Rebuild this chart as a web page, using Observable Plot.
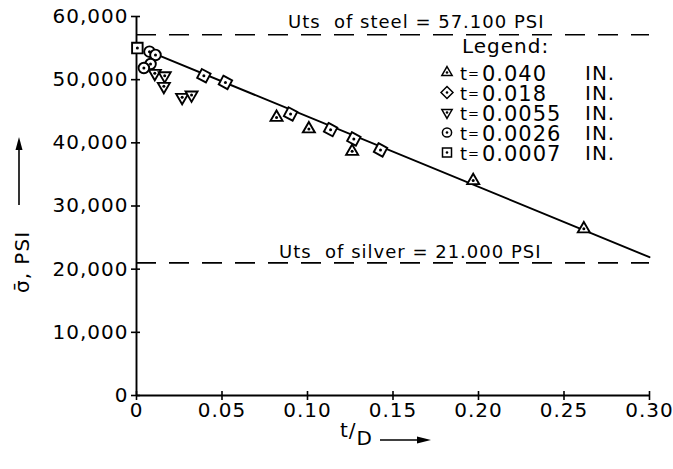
<!DOCTYPE html>
<html><head><meta charset="utf-8">
<script src="https://cdn.jsdelivr.net/npm/d3@7"></script>
<script src="https://cdn.jsdelivr.net/npm/@observablehq/plot@0.6"></script>
<style>
body{margin:0;background:#fff;}
#chart svg text{letter-spacing:1px;}
</style></head><body><div id="chart"></div>
<script>
// ---- tick values & labels ----
const xTicks = [0, 0.05, 0.10, 0.15, 0.20, 0.25, 0.30];
const xTickLabels = ["0", "0.05", "0.10", "0.15", "0.20", "0.25", "0.30"];
const yTicks = [0, 10000, 20000, 30000, 40000, 50000, 60000];
const yTickLabels = ["0", "10,000", "20,000", "30,000", "40,000", "50,000", "60,000"];

// ---- series (t/D, mean stress psi) ----
const t0040_tD = [0.0819, 0.1008, 0.1261, 0.1969, 0.2616];
const t0040_stress = [44030, 42200, 38650, 34020, 26380];
const t0018_tD = [0.0394, 0.0520, 0.0901, 0.1135, 0.1271, 0.1427];
const t0018_stress = [50630, 49570, 44570, 42090, 40620, 38880];
const t00055_tD = [0.0107, 0.0165, 0.0160, 0.0267, 0.0322];
const t00055_stress = [51000, 50630, 48940, 47200, 47580];
const t00026_tD = [0.0076, 0.0111, 0.0082, 0.0043];
const t00026_stress = [54430, 53910, 52480, 51850];
const t00007_tD = [0.0005];
const t00007_stress = [55000];

// fitted straight line
const fitTD = [0.008, 0.30];
const fitStress = [54400, 21900];

// reference UTS levels
const refNames = ["steel", "silver"];
const refStress = [57100, 21000];
const refLabels = ["Uts  of steel = 57.100 PSI", "Uts  of silver = 21.000 PSI"];

// legend
const legendLabels = ["0.040", "0.018", "0.0055", "0.0026", "0.0007"];
const legendUnit = "IN.";
const legendTitle = "Legend:";

// ---- symbols ----
function poly(pts) {
  return {draw(ctx, size) {
    const r = Math.sqrt(size / Math.PI);
    pts.forEach(([a, b], i) => i ? ctx.lineTo(a * r, b * r) : ctx.moveTo(a * r, b * r));
    ctx.closePath();
  }};
}
function rotSquare(h, deg) {
  const t = deg * Math.PI / 180, c = Math.cos(t), s = Math.sin(t);
  return poly([[-h,-h],[h,-h],[h,h],[-h,h]].map(([a,b]) => [a*c - b*s, a*s + b*c]));
}
const symUp = poly([[0, -1.12], [0.97, 0.56], [-0.97, 0.56]]);
const symDown = poly([[0, 1.12], [0.97, -0.56], [-0.97, -0.56]]);
const symSquare = rotSquare(0.85, 0);
const symTilt = rotSquare(0.8, 28);
const symDiamond = rotSquare(0.8, 45);

const series = [
  {tD: t0040_tD, s: t0040_stress, sym: symUp, leg: symUp},
  {tD: t0018_tD, s: t0018_stress, sym: symTilt, leg: symDiamond},
  {tD: t00055_tD, s: t00055_stress, sym: symDown, leg: symDown},
  {tD: t00026_tD, s: t00026_stress, sym: "circle", leg: "circle"},
  {tD: t00007_tD, s: t00007_stress, sym: symSquare, leg: symSquare}
];

const fit = fitTD.map((x, i) => ({x, y: fitStress[i]}));
const refs = refStress.map((y, i) => ({y, label: refLabels[i], name: refNames[i]}));
const fmtX = d => xTickLabels[xTicks.findIndex(v => Math.abs(v - d) < 1e-9)];
const fmtY = d => yTickLabels[yTicks.indexOf(d)];

const marks = [
  Plot.ruleY(refs, {y: "y", stroke: "black", strokeWidth: 1.6, strokeDasharray: "20,13"}),
  Plot.text(refs.filter(d => d.name === "steel"), {x: () => 0.30, y: "y", text: "label", textAnchor: "end", dx: -105, dy: -13, fontSize: 18}),
  Plot.text(refs.filter(d => d.name === "silver"), {x: () => 0.30, y: "y", text: "label", textAnchor: "end", dx: -108, dy: -11, fontSize: 18}),
  Plot.line(fit, {x: "x", y: "y", stroke: "black", strokeWidth: 1.9}),
  Plot.ruleX([0], {stroke: "black", strokeWidth: 1.9}),
  Plot.ruleY([0], {stroke: "black", strokeWidth: 1.9}),
  Plot.axisX({ticks: xTicks, tickSize: 9, dy: -4, tickFormat: () => "", strokeWidth: 1.6, label: null}),
  Plot.axisX({ticks: xTicks, tickSize: 0, tickPadding: 7, tickFormat: fmtX, fontSize: 20, label: null}),
  Plot.axisY({ticks: yTicks, tickSize: 9, dx: 4, tickFormat: () => "", strokeWidth: 1.6, label: null}),
  Plot.axisY({ticks: yTicks, tickSize: 0, tickPadding: 8, tickFormat: fmtY, fontSize: 20, label: null})
];
for (const s of series) {
  const data = s.tD.map((x, i) => ({x, y: s.s[i]}));
  marks.push(Plot.dot(data, {x: "x", y: "y", symbol: () => s.sym, r: s.sym === "circle" ? 5.3 : 6.2,
    fill: "white", stroke: "black", strokeWidth: 1.9}));
  marks.push(Plot.dot(data, {x: "x", y: "y", r: 1.5, fill: "black", stroke: "none"}));
}

const chart = Plot.plot({
  width: 673, height: 469,
  marginLeft: 136, marginRight: 24, marginTop: 16, marginBottom: 74,
  x: {domain: [0, 0.30], axis: null, label: null},
  y: {domain: [0, 60000], axis: null, label: null},
  symbol: {type: "identity"},
  style: {fontFamily: "DejaVu Sans", fontSize: "20px", color: "black", background: "white"},
  marks
});
document.getElementById("chart").appendChild(chart);

// ---- legend, axis titles (layout decorations) ----
const svg = d3.select(chart);
const g = svg.append("g").attr("font-family", "DejaVu Sans").attr("fill", "black").attr("text-anchor", "start");
g.append("text").attr("x", 462).attr("y", 53).attr("font-size", 20).text(legendTitle);
series.forEach((s, i) => {
  const cy = 72.5 + i * 20;
  const size = s.leg === "circle" ? Math.PI * 4.6 * 4.6 : Math.PI * 5.3 * 5.3;
  const type = s.leg === "circle" ? d3.symbolCircle : s.leg;
  g.append("path").attr("transform", `translate(447,${cy})`)
    .attr("d", d3.symbol(type, size)()).attr("fill", "white").attr("stroke", "black").attr("stroke-width", 1.5);
  g.append("circle").attr("cx", 447).attr("cy", cy).attr("r", 1.3).attr("fill", "black");
  const t = g.append("text").attr("x", 460).attr("y", cy).attr("dy", "0.36em");
  t.append("tspan").attr("font-size", 18).text("t");
  t.append("tspan").attr("font-size", 13).attr("dy", "-0.1em").text("=");
  t.append("tspan").attr("font-size", 21).attr("dx", 2).attr("dy", "0.1em").text(legendLabels[i]);
  g.append("text").attr("x", 585).attr("y", cy).attr("dy", "0.36em").attr("font-size", 20).text(legendUnit);
});

// y title with upward arrow
g.append("text").attr("transform", "translate(22,262) rotate(-90)")
  .attr("text-anchor", "middle").attr("dy", "0.36em").attr("font-size", 20).text("σ\u0304, PSI");
g.append("line").attr("x1", 19).attr("x2", 19).attr("y1", 205).attr("y2", 148).attr("stroke", "black").attr("stroke-width", 1.6);
g.append("path").attr("d", "M19,137 L15.5,150 L22.5,150 Z").attr("fill", "black");

// x title with right arrow
const xt = g.append("text").attr("x", 340).attr("y", 437).attr("font-size", 20);
xt.append("tspan").text("t/");
xt.append("tspan").attr("dy", 8).text("D");
g.append("line").attr("x1", 380).attr("x2", 418).attr("y1", 440).attr("y2", 440).attr("stroke", "black").attr("stroke-width", 1.6);
g.append("path").attr("d", "M431,440 L417,436.5 L417,443.5 Z").attr("fill", "black");
</script></body></html>
